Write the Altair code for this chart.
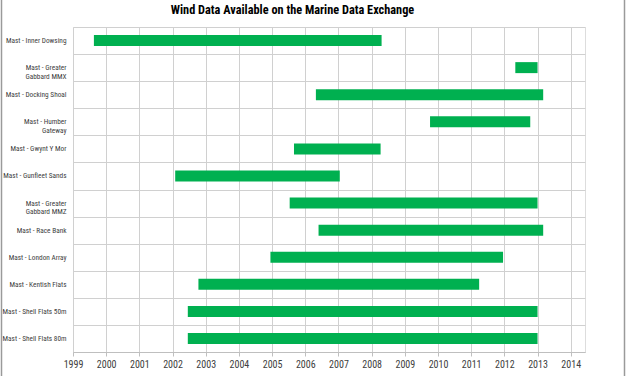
import altair as alt
import pandas as pd

masts = [
    "Mast - Inner Dowsing",
    "Mast - Greater|Gabbard MMX",
    "Mast - Docking Shoal",
    "Mast - Humber|Gateway",
    "Mast - Gwynt Y Mor",
    "Mast - Gunfleet Sands",
    "Mast - Greater|Gabbard MMZ",
    "Mast - Race Bank",
    "Mast - London Array",
    "Mast - Kentish Flats",
    "Mast - Shell Flats 50m",
    "Mast - Shell Flats 80m",
]
start_year = [1999.63, 2012.33, 2006.32, 2009.76, 2005.66, 2002.08,
              2005.53, 2006.40, 2004.95, 2002.78, 2002.46, 2002.46]
end_year = [2008.30, 2013.0, 2013.17, 2012.78, 2008.27, 2007.04,
            2013.0, 2013.17, 2011.96, 2011.24, 2013.0, 2013.0]
year_ticks = list(range(1999, 2015))
title_text = ["Wind Data Available on the Marine Data Exchange"]

df = pd.DataFrame({"mast": masts, "start": start_year, "end": end_year})

W, H = 512, 325
PL, PT = 73, 27
FONT = "Liberation Sans Narrow, Roboto Condensed, Lato"

bars = alt.Chart(df).mark_bar(color="#00B050", size=11).encode(
    x=alt.X("start:Q",
            scale=alt.Scale(domain=[1999, 2014.43], nice=False, zero=False),
            axis=alt.Axis(values=year_ticks, format="d", title=None,
                          grid=True, gridColor="#d0d0d0", domainColor="#bfbfbf",
                          tickColor="#bfbfbf", tickSize=4, labelPadding=3,
                          labelFlush=False, labelOverlap=False,
                          labelFont=FONT, labelFontSize=10, labelColor="#404040")),
    x2="end:Q",
    y=alt.Y("mast:N", sort=masts,
            scale=alt.Scale(paddingInner=0, paddingOuter=0),
            axis=alt.Axis(title=None, tickBand="extent", grid=True,
                          gridColor="#d0d0d0", ticks=False, domain=False,
                          labelExpr="split(datum.label, '|')",
                          labelFont=FONT, labelFontSize=7.3, labelColor="#404040",
                          labelPadding=7, labelLineHeight=8.5)),
)

border = alt.Chart(pd.DataFrame({"side": [-PL + 1.5, -PL + 624.5]})).mark_rule(
    color="#9a9a9a", strokeWidth=1.5).encode(
    x=alt.X("side:Q", scale=None),
    y=alt.value(-PT),
    y2=alt.value(376 - PT),
)

title = alt.Chart(pd.DataFrame({"t": title_text})).mark_text(
    font="Liberation Sans Narrow, Roboto Condensed, Liberation Sans",
    fontSize=12.3, fontWeight="bold", color="#000000",
    align="center", baseline="middle").encode(
    text="t:N",
    x=alt.value(292.5 - PL),
    y=alt.value(10 - PT),
)

chart = alt.layer(bars, border, title).properties(
    width=W, height=H,
    autosize=alt.AutoSizeParams(type="none"),
    padding={"left": PL, "top": PT, "right": 627 - PL - W, "bottom": 376 - PT - H},
).configure_view(stroke=None).configure(background="white")

chart.save("out.html", embed_options={"renderer": "svg", "actions": False})
